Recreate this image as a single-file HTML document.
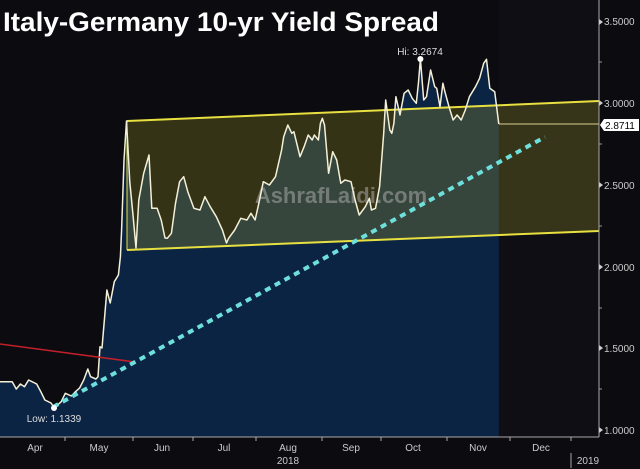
<!DOCTYPE html>
<html><head><meta charset="utf-8"><style>
html,body{margin:0;padding:0;background:#0b0b10;}
svg{display:block;}
text{font-family:"Liberation Sans",sans-serif;}
</style></head><body>
<svg width="640" height="469" viewBox="0 0 640 469" xmlns="http://www.w3.org/2000/svg">
<rect width="640" height="469" fill="#0b0b10"/>
<rect x="499" y="0" width="100" height="437" fill="#0e0e14"/>
<!-- area under series -->
<polygon fill="#0c2444" points="0,381.7 12.2,381.7 16.3,389 20.4,384 24.5,386.7 28.6,380 36.7,384 40.8,391.7 44.9,400 51,403 54.3,408 61.2,401.7 65.3,393.3 71.4,396 75.5,391.7 79.6,388 83.7,380 87.8,369 90.6,376.7 95.9,379 98,376.7 100,346.7 102,348 106.9,290 110.2,303 114.3,281.7 118.4,275 120.4,256.7 121.6,230 124,160 126.5,121 129.8,182 133,215 136,248 138.8,200 143.7,173.3 149,155 151.8,208.3 157.1,208.3 161.2,220 165,238 167.3,238.3 171.4,233.3 175.5,203.3 179.6,181.7 183.7,176.7 187.8,191.7 193.9,208.3 200,210 204.9,196.7 210.2,206.7 216.3,216.7 222.4,230 226.5,243 228.6,238.3 234.7,230 240.8,218.3 246.9,220 251,213.3 255.1,220 259.2,201.7 263.3,181.7 269.4,185 275.5,176.7 281.6,150 283.7,136.7 287.8,125 291.8,133.3 293.9,131.7 300,156.7 304.1,146.7 308.2,135 312.2,140 314.3,135 318.4,140 320.4,123.3 322.4,118.3 324.5,125 328.6,173.3 332.7,151.7 336.7,160 340.8,183.3 344.9,180 351,181.7 355.1,200 359.2,215 365.3,206.7 369.4,198.3 371.4,210 375.5,208.3 379.6,186.7 383.7,133.3 385.7,100 389.8,130 391.8,133.3 393.9,123.3 395.9,96.7 400,115 404.1,93.3 408.2,90 412.2,98.3 416.3,103.3 418.4,83.3 420.4,59 423.7,100 426.5,96.7 430.6,70 434.7,86.7 436.7,88.3 440,106.7 442.9,83.3 444.9,91.7 449,106.7 453.1,120 457.1,115 461.2,120 465.3,110 469.4,96.7 475.5,86.7 479.6,78.3 483.7,63.3 486.5,59.3 489.8,88.3 494.7,91.7 498.8,124 498.8,437 0,437"/>
<!-- channel -->
<polygon points="127,121 599,101 599,231 127,250" fill="rgba(190,180,40,0.24)"/>
<line x1="127" y1="121" x2="599" y2="101" stroke="#e8e040" stroke-width="2"/>
<line x1="127" y1="250" x2="599" y2="231" stroke="#e8e040" stroke-width="2"/>
<line x1="127" y1="121" x2="127" y2="250" stroke="#e8e040" stroke-width="1"/>
<!-- last value line -->
<line x1="499" y1="124" x2="599" y2="124" stroke="#d8d090" stroke-width="1"/>
<!-- watermark -->
<text x="341" y="203" text-anchor="middle" font-size="22" font-weight="bold" fill="rgba(170,170,170,0.55)">AshrafLaidi.com</text>
<!-- series line -->
<polyline fill="none" stroke="#f4f0d8" stroke-width="1.5" stroke-linejoin="round" points="0,381.7 12.2,381.7 16.3,389 20.4,384 24.5,386.7 28.6,380 36.7,384 40.8,391.7 44.9,400 51,403 54.3,408 61.2,401.7 65.3,393.3 71.4,396 75.5,391.7 79.6,388 83.7,380 87.8,369 90.6,376.7 95.9,379 98,376.7 100,346.7 102,348 106.9,290 110.2,303 114.3,281.7 118.4,275 120.4,256.7 121.6,230 124,160 126.5,121 129.8,182 133,215 136,248 138.8,200 143.7,173.3 149,155 151.8,208.3 157.1,208.3 161.2,220 165,238 167.3,238.3 171.4,233.3 175.5,203.3 179.6,181.7 183.7,176.7 187.8,191.7 193.9,208.3 200,210 204.9,196.7 210.2,206.7 216.3,216.7 222.4,230 226.5,243 228.6,238.3 234.7,230 240.8,218.3 246.9,220 251,213.3 255.1,220 259.2,201.7 263.3,181.7 269.4,185 275.5,176.7 281.6,150 283.7,136.7 287.8,125 291.8,133.3 293.9,131.7 300,156.7 304.1,146.7 308.2,135 312.2,140 314.3,135 318.4,140 320.4,123.3 322.4,118.3 324.5,125 328.6,173.3 332.7,151.7 336.7,160 340.8,183.3 344.9,180 351,181.7 355.1,200 359.2,215 365.3,206.7 369.4,198.3 371.4,210 375.5,208.3 379.6,186.7 383.7,133.3 385.7,100 389.8,130 391.8,133.3 393.9,123.3 395.9,96.7 400,115 404.1,93.3 408.2,90 412.2,98.3 416.3,103.3 418.4,83.3 420.4,59 423.7,100 426.5,96.7 430.6,70 434.7,86.7 436.7,88.3 440,106.7 442.9,83.3 444.9,91.7 449,106.7 453.1,120 457.1,115 461.2,120 465.3,110 469.4,96.7 475.5,86.7 479.6,78.3 483.7,63.3 486.5,59.3 489.8,88.3 494.7,91.7 498.8,124"/>
<!-- red line -->
<line x1="0" y1="344" x2="135" y2="362" stroke="#c0202a" stroke-width="1.5"/>
<!-- trend dotted -->
<line x1="53" y1="407" x2="545" y2="137" stroke="#6ee0dc" stroke-width="4" stroke-dasharray="6,5"/>
<!-- markers -->
<circle cx="420.4" cy="59" r="3" fill="#fff"/>
<text x="420" y="55" text-anchor="middle" font-size="10" fill="#ddd">Hi: 3.2674</text>
<circle cx="54" cy="408" r="3" fill="#fff"/>
<text x="54" y="422" text-anchor="middle" font-size="10" fill="#ddd">Low: 1.1339</text>
<!-- title -->
<text x="3" y="31" font-size="27" font-weight="bold" fill="#fff" textLength="436" lengthAdjust="spacingAndGlyphs">Italy-Germany 10-yr Yield Spread</text>
<!-- axes -->
<line x1="599" y1="0" x2="599" y2="437" stroke="#aaa" stroke-width="1"/>
<line x1="0" y1="437" x2="599" y2="437" stroke="#aaa" stroke-width="1"/>
<g fill="#ccc" font-size="10">
<text x="604" y="25">3.5000</text>
<text x="604" y="107">3.0000</text>
<text x="604" y="189">2.5000</text>
<text x="604" y="271">2.0000</text>
<text x="604" y="352">1.5000</text>
<text x="604" y="434">1.0000</text>
</g>
<g fill="#ccc">
<polygon points="599,19 603,22 599,25"/><polygon points="599,100 603,103 599,106"/><polygon points="599,182 603,185 599,188"/><polygon points="599,264 603,267 599,270"/><polygon points="599,345 603,348 599,351"/><polygon points="599,427 603,430 599,433"/>
</g>
<g stroke="#999"><line x1="599" y1="62" x2="602" y2="62"/><line x1="599" y1="144" x2="602" y2="144"/><line x1="599" y1="226" x2="602" y2="226"/><line x1="599" y1="308" x2="602" y2="308"/><line x1="599" y1="389" x2="602" y2="389"/></g>
<!-- last value label -->
<polygon points="600,125 604,119 639,119 639,131 604,131" fill="#fff"/>
<text x="605" y="129" font-size="10" fill="#000">2.8711</text>
<!-- x ticks -->
<g stroke="#aaa"><line x1="65" y1="437" x2="65" y2="441"/><line x1="133" y1="437" x2="133" y2="441"/><line x1="193" y1="437" x2="193" y2="441"/><line x1="256" y1="437" x2="256" y2="441"/><line x1="322" y1="437" x2="322" y2="441"/><line x1="381" y1="437" x2="381" y2="441"/><line x1="447" y1="437" x2="447" y2="441"/><line x1="510" y1="437" x2="510" y2="441"/><line x1="571" y1="437" x2="571" y2="441"/><line x1="571" y1="453" x2="571" y2="468"/></g>
<g fill="#ccc" font-size="10" text-anchor="middle">
<text x="35" y="451">Apr</text><text x="99" y="451">May</text><text x="162" y="451">Jun</text><text x="224" y="451">Jul</text><text x="288" y="451">Aug</text><text x="351" y="451">Sep</text><text x="413" y="451">Oct</text><text x="478" y="451">Nov</text><text x="541" y="451">Dec</text>
<text x="288" y="464">2018</text><text x="588" y="464">2019</text>
</g>
</svg>
</body></html>
